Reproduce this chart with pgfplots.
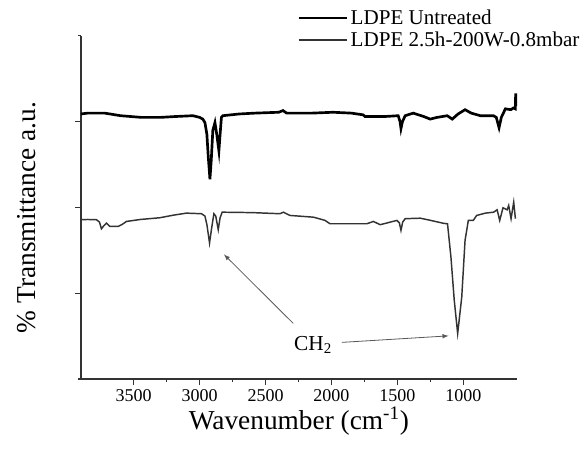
\documentclass[border=0pt]{standalone}
\usepackage{fontspec}
\setmainfont{Liberation Serif}
\usepackage{pgfplots}
\pgfplotsset{compat=1.18}

\pgfplotstableread{
w y
3900 3.09
3850 3.10
3783 3.10
3720 3.10
3600 3.07
3441 3.05
3300 3.05
3188 3.06
3052 3.07
3000 3.05
2976 3.03
2960 2.99
2945 2.85
2935 2.60
2922 2.33
2912 2.55
2900 2.90
2884 2.99
2870 2.85
2854 2.66
2845 2.85
2835 3.05
2824 3.07
2700 3.09
2581 3.10
2400 3.11
2368 3.13
2340 3.10
2292 3.10
2150 3.10
1988 3.11
1850 3.10
1760 3.08
1745 3.06
1600 3.06
1494 3.07
1480 3.00
1473 2.92
1462 3.00
1441 3.07
1380 3.10
1300 3.06
1251 3.03
1200 3.05
1160 3.06
1122 3.07
1084 3.03
1040 3.09
987 3.14
940 3.10
871 3.07
772 3.07
750 3.05
729 2.93
712 3.05
681 3.15
640 3.14
620 3.16
606 3.15
603 3.33
602 3.18
}\untreated

\pgfplotstableread{
w y
3900 1.857
3850 1.860
3783 1.857
3760 1.830
3745 1.752
3725 1.790
3707 1.817
3695 1.800
3682 1.779
3619 1.779
3590 1.800
3555 1.837
3450 1.860
3302 1.880
3200 1.910
3100 1.934
2986 1.927
2960 1.900
2945 1.800
2925 1.585
2910 1.750
2892 1.927
2878 1.900
2859 1.741
2845 1.880
2829 1.945
2600 1.940
2391 1.927
2365 1.945
2315 1.907
2138 1.887
2050 1.850
2011 1.810
1732 1.810
1682 1.837
1631 1.799
1504 1.849
1485 1.820
1473 1.733
1460 1.830
1441 1.869
1327 1.875
1250 1.850
1150 1.815
1120 1.810
1094 1.420
1069 0.920
1043 0.530
1012 0.957
987 1.616
962 1.850
924 1.850
899 1.907
833 1.934
770 1.945
744 1.973
724 1.849
699 1.997
668 1.973
656 2.023
638 1.869
618 2.062
605 1.869
}\treated

\begin{document}
\begin{tikzpicture}
\begin{axis}[
  scale only axis,
  width=326.8pt, height=257.3pt,
  x dir=reverse,
  xmin=595, xmax=3900,
  ymin=0, ymax=4,
  axis x line*=bottom, axis y line*=left,
  axis line style={black!80, line width=0.8pt},
  xtick={1000,1500,2000,2500,3000,3500},
  minor x tick num=1,
  ytick={1,2,3},
  yticklabels={},
  extra y ticks={0,4},
  extra y tick labels={},
  extra tick style={major tick length=2.5pt},
  tick align=outside,
  major tick length=4.5pt,
  minor tick length=2.5pt,
  tick style={black!80, line width=0.8pt},
  scaled x ticks=false,
  /pgf/number format/assume math mode=true,
  /pgf/number format/set thousands separator={},
  ticklabel style={font=\fontsize{13.5}{15}\selectfont},
  xlabel={Wavenumber (cm\textsuperscript{-1})},
  ylabel={\% Transmittance a.u.},
  label style={font=\fontsize{20.5}{23}\selectfont},
  xlabel style={yshift=3pt},
  ylabel style={yshift=12pt, xshift=-7.5pt},
  legend style={at={(0.496,1.085)}, anchor=north west, draw=none, fill=none,
    font=\fontsize{15.8}{17}\selectfont, inner sep=0pt, row sep=0pt,
    nodes={inner sep=2pt}},
  legend cell align=left,
  legend image code/.code={\draw[#1] (0pt,0pt) -- (36pt,0pt);},
  clip=false,
]
\addplot[black, line width=2pt] table[x=w, y=y] {\untreated};
\addlegendentry{LDPE Untreated}
\addplot[black!80, line width=1.1pt] table[x=w, y=y] {\treated};
\addlegendentry{LDPE 2.5h-200W-0.8mbar}
\draw[-latex, black!65, line width=0.6pt] (axis cs:2290,0.648) -- (axis cs:2816,1.453);
\draw[-latex, black!65, line width=0.6pt] (axis cs:1922,0.427) -- (axis cs:1112,0.503);
\node[font=\fontsize{16}{18}\selectfont] at (axis cs:2140,0.40) {CH\textsubscript{2}};
\end{axis}
\pgfresetboundingbox
\path (-60.75pt,-57.75pt) rectangle (377.25pt,284.25pt);
\end{tikzpicture}
\end{document}
